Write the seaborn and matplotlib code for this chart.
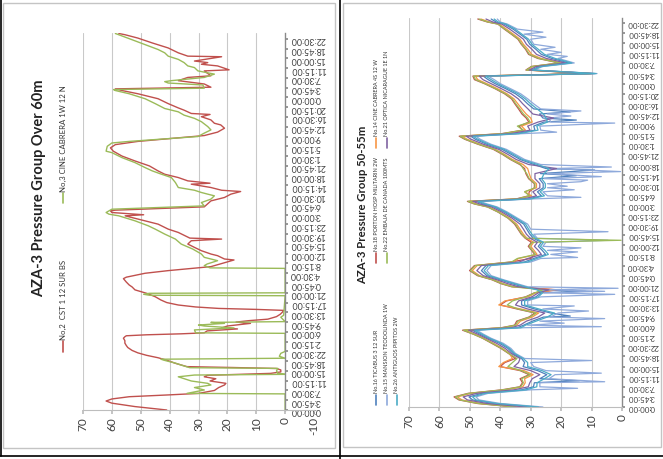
import numpy as np
import pandas as pd
import matplotlib
matplotlib.use("Agg")
import matplotlib.pyplot as plt
import seaborn as sns
from matplotlib.lines import Line2D
from matplotlib.patches import Rectangle

sns.set_theme(style="white")
plt.rcParams['font.family'] = ['Lato', 'DejaVu Sans']

# ---------------- shared axis texts ----------------
time_labels = ['0:00:00', '3:45:00', '7:30:00', '11:15:00', '15:00:00', '18:45:00', '22:30:00',
               '2:15:00', '6:00:00', '9:45:00', '13:30:00', '17:15:00', '21:00:00', '0:45:00',
               '4:30:00', '8:15:00', '12:00:00', '15:45:00', '19:30:00', '23:15:00', '3:00:00',
               '6:45:00', '10:30:00', '14:15:00', '18:00:00', '21:45:00', '1:30:00', '5:15:00',
               '9:00:00', '12:45:00', '16:30:00', '20:15:00', '0:00:00', '3:45:00', '7:30:00',
               '11:15:00', '15:00:00', '18:45:00', '22:30:00']
left_value_ticks = [70, 60, 50, 40, 30, 20, 10, 0, -10]
right_value_ticks = [70, 60, 50, 40, 30, 20, 10, 0]

left_title = 'AZA-3 Pressure Group Over 60m'
right_title = 'AZA-3 Pressure Group 50-55m'

# ---------------- left chart: time in 3h45m label intervals ----------------
no2_t = [0, 0.35, 0.7, 0.92, 1.13, 1.36, 1.55, 1.7, 2.0, 2.3, 2.56, 2.73, 2.97, 3.2, 3.4, 3.55,
         3.75, 3.9, 4.1, 4.25, 4.35, 4.44, 4.78, 5.1, 5.35, 5.6, 5.85, 6.1, 6.4, 6.6, 6.85, 7.1,
         7.35, 7.5, 7.6, 7.7, 7.8, 7.9, 8.1, 8.3, 8.4, 8.6, 8.87, 9.0, 9.15, 9.3, 9.56, 9.8,
         10.0, 10.2, 10.3, 10.4, 10.55, 10.75, 11.0, 11.26, 11.6, 11.95, 12.3, 12.6, 12.8, 13.1,
         13.45, 13.6, 14.0, 14.27, 14.68, 14.78, 15.36, 15.46, 15.8, 15.97, 16.31, 16.65, 16.99,
         17.33, 17.5, 17.6, 18.18, 18.52, 19.03, 19.37, 19.71, 19.88, 19.99, 20.22, 20.39, 20.46,
         20.8, 21.41, 21.76, 22.1, 22.37, 22.5, 22.78, 22.95, 23.12, 23.22, 23.46, 23.8, 24.14,
         24.48, 24.99, 25.5, 26.0, 26.5, 26.84, 27.17, 27.5, 28.1, 28.45, 28.85, 29.19, 29.36,
         29.7, 30.03, 30.26, 30.36, 30.7, 30.93, 31.37, 31.87, 32.38, 32.71, 32.88, 33.05, 33.38,
         33.72, 34.05, 34.22, 34.72, 34.83, 35.23, 35.4, 35.57, 35.73, 36.17, 36.23, 36.57,
         37.07, 37.58, 38.08, 38.42, 38.55]
no2_v = [41, 52, 60, 62, 60, 54, 40, 30, 24.5, 23, 21, 20.5, 26, 24, 28, 27,
         5, 1.5, 1.5, 3, 18, 34, 38, 41, 44, 48, 51, 53, 54.5, 55, 55.5, 55.5,
         56, 55.5, 55, 48, 36, 28, 27, 16.5, 22, 20, 12, 17, 12.5, 6, 3, 1.7,
         1, 0.5, 10, 23, 31, 37, 41, 43, 45, 48, 52, 53, 54, 55,
         56, 55, 48.5, 40.5, 25.7, 24.5, 17.7, 21, 23.4, 25.7, 29, 31.4, 33.7,
         32.5, 22, 33, 37, 40.5, 44, 48.5, 53, 55.4, 49, 60, 60.5, 58.8,
         28, 25.7, 21, 18.8, 15.4, 22, 25.7, 29, 32.5, 26, 33.7, 37, 41.7,
         44, 47, 52, 56.5, 59.5, 60.5, 58.8, 51, 28, 23.4, 21, 22.3, 24.5,
         25.7, 29, 26, 32.5, 35, 37, 40.5, 44, 51, 56.5, 58.8, 25.7, 28,
         37, 33.7, 25.7, 28, 19.4, 23.4, 29, 26.8, 31.4, 22, 33.7, 37,
         40.5, 46, 51, 55.4, 57.6]

no3_t = [0, 1.65, 1.7, 2.05, 2.3, 2.56, 2.73, 2.97, 3.4, 3.58, 3.65, 3.75, 4.0, 4.26, 4.33,
         4.6, 4.8, 5.1, 5.2, 5.3, 5.5, 5.8, 6.0, 7.85, 7.9, 8.2, 8.4, 8.6, 8.7, 8.87, 8.97,
         9.05, 9.5, 9.7, 11.7, 11.75, 11.85, 11.95, 12.0, 14.5, 14.55, 14.78, 14.95, 15.29,
         15.46, 15.63, 15.97, 16.48, 16.99, 17.5, 18.01, 18.52, 18.86, 19.37, 19.88, 20.05,
         20.22, 20.56, 20.9, 21.24, 21.59, 21.93, 22.1, 22.27, 22.5, 22.78, 23.29, 23.8,
         24.14, 24.48, 24.82, 25.33, 25.84, 26.35, 26.5, 27.0, 27.34, 27.5, 28.0, 28.35,
         28.68, 29.02, 29.52, 29.86, 30.19, 30.53, 30.87, 31.37, 31.87, 32.38, 32.71, 32.81,
         32.95, 33.28, 33.48, 33.62, 33.72, 34.05, 34.39, 34.72, 35.06, 35.23, 35.57, 35.9,
         36.23, 36.57, 36.91, 37.41, 37.91, 38.42, 38.55]
no3_v = [0, 0, 34, 28, 31.4, 25.7, 26.8, 32.5, 37, 31.4, 0, 2.5, 3, 2.5, 33,
         36, 38, 42, 43, 0, 2, 1.5, 0, 0, 31, 31.4, 17.7, 28, 30, 21, 25.7,
         0, 1.5, 0.5, 0, 47, 49, 47, 0, 0, 26, 28, 27, 23.4,
         25.7, 28, 29, 32, 36, 38, 41.7, 45, 47.4, 52, 57.6, 61,
         62, 60, 28, 29, 25.7, 24.5, 26.8, 29, 31.4, 37, 38, 39.4,
         42.8, 46, 48.5, 52, 56.5, 60, 62, 61.6, 60, 54, 30.2, 28,
         25.7, 26.8, 29, 31.4, 35, 37, 41.7, 45, 48.5, 54, 58.8, 59.4,
         28, 28.5, 40.5, 41.7, 39.4, 28, 24.5, 30.2, 31.4, 33.7, 35, 37,
         40.5, 41.7, 44, 48.5, 53, 57.6, 58.8]

# ---------------- right chart: common sample times ----------------
knot_t = [0.0, 0.35, 0.7, 1.0, 1.35, 1.7, 2.0, 2.4, 2.8, 3.2, 3.6, 4.0, 4.4, 4.8, 5.3, 5.8,
          6.3, 6.8, 7.2, 7.6, 7.85, 8.1, 8.5, 8.9, 9.3, 9.7, 10.1, 10.5, 10.9, 11.3, 11.6,
          11.9, 12.2, 12.6, 13.0, 13.5, 14.0, 14.35, 14.7, 15.1, 15.5, 15.9, 16.3, 16.7,
          17.1, 17.6, 18.1, 18.7, 19.3, 19.8, 20.1, 20.35, 20.6, 20.9, 21.3, 21.7, 22.1,
          22.6, 23.1, 23.6, 24.0, 24.5, 25.0, 25.5, 26.0, 26.5, 26.8, 27.05, 27.4, 27.8,
          28.2, 28.6, 29.0, 29.5, 30.0, 30.5, 31.0, 31.5, 32.0, 32.4, 32.75, 33.0, 33.35,
          33.7, 34.05, 34.5, 34.9, 35.4, 35.9, 36.4, 36.9, 37.4, 37.9, 38.1, 38.4]

no18_v = [35.5, 47.6, 53.6, 55.2, 50.6, 39.5, 33.6, 32.7, 33.5, 30.5, 33.5, 40, 38.5, 35, 37.3, 39.8,
          42.8, 45.8, 48.8, 52.4, 39.6, 35.3, 34.6, 30.6, 28.6, 34.5, 40, 38, 31.7, 28.8, 21,
          36.3, 39.7, 42.8, 47.5, 50.1, 48.5, 36.6, 30, 28.7, 29.7, 30.8, 29.8, 31.8,
          33.1, 34.2, 35.3, 37.5, 40.8, 44.2, 48.6, 50.8, 34.7, 30.7, 30.5, 28.8, 28.8,
          30.7, 31.6, 32, 33.6, 36.7, 39.3, 42.3, 47.3, 51.7, 53.5, 39.6, 32.7, 33.8,
          30.6, 31.5, 32.9, 34, 35.2, 36.3, 38.6, 41.7, 45.2, 48.5, 49, 10.4, 31.6,
          29.8, 20.7, 27.7, 30.7, 31.7, 33.1, 34.2, 36.4, 38.7, 40.8, 44.2, 47.4]
no22_v = [35, 47.2, 53.3, 54.8, 50.3, 39, 33.3, 32.4, 33, 30.1, 33.1, 37.5, 36, 34.5, 37.2, 39.6,
          42.6, 45.7, 48.7, 52.1, 39.2, 35, 34.2, 30.3, 28.2, 34.1, 37.7, 36, 31.5, 28.7, 26,
          36, 39.4, 42.6, 47.2, 49.8, 48.2, 36.3, 34.4, 28.4, 29.5, 30.5, 29.5, 31.6,
          32.9, 34, 35, 37.4, 40.7, 44.1, 48.4, 50.6, 34.4, 30.4, 32, 28.6, 28.6,
          30.5, 31.3, 32.5, 33.3, 36.5, 39, 42, 47, 51.5, 53.2, 39.3, 32.4, 34.4,
          30.2, 31, 32.4, 33.6, 34.9, 36, 38.3, 41.5, 45, 48.1, 48.8, 10.3, 31.4,
          29.6, 20.5, 27.3, 30.4, 31.5, 32.9, 34, 36.2, 38.5, 40.7, 44, 47]
no14_v = [34, 46.4, 52.6, 54.1, 49.6, 38, 32.6, 31.8, 32, 29.2, 32.2, 40.5, 39, 36, 37, 39.3,
          42.2, 45.4, 48.3, 51.6, 38.4, 34.6, 33.4, 29.5, 27.4, 33.2, 40.5, 38.5, 30.9, 28.3, 22,
          35.5, 38.9, 42.2, 46.8, 49.2, 47.6, 35.6, 34, 27.9, 28.9, 30, 29, 31.2,
          32.4, 33.5, 34.6, 37, 40.3, 43.7, 47.9, 50.1, 33.8, 29.7, 32, 28.1, 28.1,
          29.9, 30.5, 31, 32.5, 36, 38.6, 41.6, 46.6, 50.9, 52.6, 38.6, 31.7, 33,
          29.5, 30, 31.5, 32.9, 34.2, 35.5, 37.8, 40.9, 44.4, 47.4, 48.2, 10, 31.2,
          29.2, 19.9, 26.6, 29.7, 30.9, 32.4, 33.5, 35.7, 38, 40.3, 43.5, 46.4]
no21_v = [31.5, 44.4, 50.8, 52.2, 47.8, 35.5, 30.8, 30.3, 29.5, 27, 30, 35.5, 34, 33.5, 36.4, 38.4,
          41.2, 44.6, 47.4, 50.4, 36.4, 33.5, 31.4, 27.6, 25.4, 31, 35, 34, 29.6, 27.5, 24,
          34.1, 37.5, 41.2, 45.6, 47.7, 46.2, 33.8, 31, 26.5, 27.5, 28.8, 27.8, 30.1,
          31.4, 32.4, 33.5, 36.2, 39.5, 42.9, 46.8, 49, 32.3, 28.1, 29.3, 27, 27,
          28.6, 28.6, 21.5, 30.7, 34.8, 37.5, 40.5, 45.5, 49.6, 51.2, 36.8, 30.2, 31,
          27.6, 22.5, 29.3, 30.9, 32.6, 34.1, 36.4, 39.6, 43, 45.7, 46.9, 9.5, 30.5,
          28.2, 18.6, 24.9, 28.1, 29.6, 31.4, 32.4, 34.6, 36.9, 39.5, 42.4, 44.7]
no16_v = [29, 42.4, 49.1, 50.3, 46.1, 33, 29.1, 28.8, 27, 24.7, 27.7, 32.5, 32, 33, 35.8, 37.5,
          40.2, 43.9, 46.6, 49.2, 34.4, 32.3, 29.4, 25.8, 23.4, 28.7, 33, 33, 28.3, 26.6, 27,
          32.7, 36.1, 40.2, 44.4, 46.2, 44.7, 32.1, 29, 25.1, 26.2, 27.5, 26.5, 29.1,
          30.3, 31.3, 32.3, 35.4, 38.7, 42, 45.7, 47.9, 30.8, 26.5, 27.8, 25.9, 25.9,
          27.2, 26.8, 25, 28.9, 33.5, 36.4, 39.4, 44.4, 48.2, 49.7, 35.1, 28.6, 29,
          25.7, 26, 27.1, 29, 31, 32.7, 35, 38.2, 41.7, 44, 45.6, 8.9, 29.8,
          27.2, 17.3, 23.1, 26.5, 28.3, 30.3, 31.3, 33.5, 35.8, 38.7, 41.3, 43]
no26_v = [27.5, 41.2, 48, 49.1, 45, 31.5, 28, 27.9, 25.5, 23.3, 26.3, 31, 31, 32.5, 35.4, 37,
          39.6, 43.5, 46, 48.4, 33.2, 31.7, 28.2, 24.6, 22.2, 27.3, 32, 32, 27.5, 26.1, 28,
          31.8, 35.2, 39.6, 43.7, 45.3, 43.9, 31, 28, 24.2, 25.3, 26.8, 25.8, 28.4,
          29.6, 30.7, 31.7, 34.9, 38.2, 41.5, 45.1, 47.3, 29.9, 25.5, 26.9, 25.2, 25.2,
          26.4, 25.6, 24, 27.8, 32.8, 35.7, 38.7, 43.7, 47.4, 48.9, 34, 27.6, 28,
          24.5, 25, 25.8, 27.9, 30, 31.8, 34.1, 37.4, 40.8, 43, 44.8, 8.5, 29.4,
          26.6, 16.5, 22, 25.5, 27.5, 29.6, 30.7, 32.9, 35.1, 38.2, 40.7, 42]
no15_v = [26, 40, 47, 48, 44, 30, 27, 27, 24, 22, 25, 29, 30, 32, 35, 36.5,
          39, 43, 45.5, 47.7, 32, 31, 27, 23.5, 21, 26, 31, 31, 26.7, 25.6, 25,
          31, 34.4, 39, 43, 44.4, 43, 30, 26.7, 23.4, 24.5, 26, 25, 27.8,
          29, 30, 31, 34.4, 37.7, 41, 44.4, 46.6, 29, 24.5, 26, 24.5, 24.5,
          25.6, 24.5, 23, 26.7, 32, 35, 38, 43, 46.6, 48, 33, 26.7, 27,
          23.4, 24, 24.5, 26.7, 29, 31, 33.3, 36.6, 40, 42, 44, 8.2, 29,
          26, 15.7, 21, 24.5, 26.7, 29, 30, 32.2, 34.4, 37.7, 40, 41]

# extra readings (sharp drops) between the common sample times
no15_extra_t = [1.85, 2.5, 3.35, 4.6, 7.95, 8.3, 8.75, 9.5, 10.0, 11.15, 11.45, 11.75, 14.8,
                15.35, 15.75, 16.5, 17.35, 20.75, 21.5, 21.85, 22.3, 22.45, 22.8, 23.3, 23.75,
                27.2, 28.1, 28.8, 29.3, 34.7, 35.1, 35.6, 36.6, 37.1]
no15_extra_v = [14.6, 5.7, 6.8, 10, 6.8, 19, 5.7, 11, 15.7, 2.4, 5.7, 1.3, 14.6,
                14.6, 13.5, 4.6, 4.6, 13.5, 15.7, 18, 13.5, 11.3, 6.8, 0.5, 3.5,
                21.5, 2.4, 16.8, 13.5, 18, 20, 22, 25, 26]
no16_extra_t = [2.6, 9.0, 11.45, 22.9, 23.45, 28.4, 29.2]
no16_extra_v = [14, 17, 12, 15, 9, 15, 17]
no22_extra_t = [16.5]
no22_extra_v = [0.3]

# ---------------- build tidy frames ----------------
def frame(name, t, v):
    d = pd.DataFrame({'t': t, 'value': v, 'series': name})
    return d.sort_values('t', kind='stable')

left_df = pd.concat([frame('No,2  CST 1 12 SUR BS', no2_t, no2_v),
                     frame('No,3 CINE CABRERA 1W 12 N', no3_t, no3_v)])

right_names = ['No.16 TICABUS 3 12 SUR', 'No.18 PORTON HOSP MILITARIN 2W',
               'No.14 CINE CABRERA 4S 12 W', 'No.15 MANSION TEODOLINDA 1W',
               'No.22 EMBAJA DE CANADA 100MTS', 'No.21 OPTICA NICARAGUE 1E 1N',
               'No.26 ANTIGUOS PIPITOS 2W']
right_df = pd.concat([
    frame(right_names[0], knot_t + no16_extra_t, no16_v + no16_extra_v),
    frame(right_names[1], knot_t, no18_v),
    frame(right_names[2], knot_t, no14_v),
    frame(right_names[3], knot_t + no15_extra_t, no15_v + no15_extra_v),
    frame(right_names[4], knot_t + no22_extra_t, no22_v + no22_extra_v),
    frame(right_names[5], knot_t, no21_v),
    frame(right_names[6], knot_t, no26_v),
])

left_pal = {'No,2  CST 1 12 SUR BS': '#C0504D', 'No,3 CINE CABRERA 1W 12 N': '#9BBB59'}
right_pal = dict(zip(right_names, ['#4F81BD', '#C0504D', '#F79646', '#8EA9DB',
                                   '#9BBB59', '#8064A2', '#4BACC6']))

# ---------------- figure ----------------
W, H = 663, 459
fig = plt.figure(figsize=(W / 100, H / 100), dpi=100)
fig.patch.set_facecolor('white')

def FX(px):
    return px / W

def FY(py):
    return 1 - py / H

# page frames
for (x0, y0, x1, y1) in [(3, 3, 335, 448), (343, 3, 661, 447)]:
    fig.add_artist(Rectangle((FX(x0), FY(y1)), FX(x1) - FX(x0), FY(y0) - FY(y1),
                             transform=fig.transFigure, fill=False, ec='#c4c4c4', lw=1.0))
for (xa, ya, xb, yb) in [(1, 0, 1, 456), (339.5, 0, 339.5, 459), (0, 456, 663, 456)]:
    fig.add_artist(Line2D([FX(xa), FX(xb)], [FY(ya), FY(yb)], transform=fig.transFigure,
                          color='black', lw=1.2))


def style_axes(ax, xmin, ymax, ticks, grid_vals, spine_at_zero, tsize):
    ax.set_facecolor('none')
    ax.set_xlim(70, xmin)
    ax.set_ylim(0, ymax)
    for g in grid_vals:
        ax.axvline(g, color='#c9c9c9', lw=0.8, zorder=0)
    for s in ['top', 'left']:
        ax.spines[s].set_visible(False)
    ax.spines['bottom'].set_color('#bdbdbd')
    ax.spines['bottom'].set_linewidth(0.8)
    ax.spines['right'].set_color('#8a8a8a')
    ax.spines['right'].set_linewidth(1.0)
    if spine_at_zero:
        ax.spines['right'].set_position(('data', 0))
    ax.set_xticks(ticks)
    ax.set_xticklabels([str(t) for t in ticks], rotation=90, fontsize=8.5, color='#404040')
    ax.tick_params(axis='x', length=3, color='#bdbdbd', pad=2, bottom=True)
    ax.yaxis.tick_right()
    ax.set_yticks(range(len(time_labels)))
    ax.set_yticklabels(time_labels, rotation=180, fontsize=tsize, color='#404040')
    ax.tick_params(axis='y', length=2.5, color='#8a8a8a', pad=1.2, right=True, left=False)
    ax.set_xlabel('')
    ax.set_ylabel('')


# left chart
ax1 = fig.add_axes([FX(83), FY(410), FX(314) - FX(83), FY(33) - FY(410)])
sns.lineplot(data=left_df, x='value', y='t', hue='series', palette=left_pal, orient='y',
             estimator=None, sort=True, legend=False, linewidth=1.0, ax=ax1)
style_axes(ax1, -10, 38.6, left_value_ticks, [10, 20, 30, 40, 50, 60, 70], True, 6.4)

# right chart
ax2 = fig.add_axes([FX(409), FY(407), FX(622) - FX(409), FY(18) - FY(407)])
sns.lineplot(data=right_df, x='value', y='t', hue='series', hue_order=right_names,
             palette=right_pal, orient='y', estimator=None, sort=True, legend=False,
             linewidth=0.9, ax=ax2)
style_axes(ax2, 0, 38.5, right_value_ticks, [10, 20, 30, 40, 50, 60, 70], False, 5.7)

# titles (rotated page)
fig.text(FX(39), FY(188), left_title, rotation=90, ha='center', va='center',
         fontsize=10.5, fontweight='bold', color='#222222')
fig.text(FX(363), FY(205), right_title, rotation=90, ha='center', va='center',
         fontsize=8.2, fontweight='bold', color='#222222')

# legends (rotated page)
def legend_entry(x, y_line_bottom, y_line_top, y_text, label, color, size):
    fig.add_artist(Line2D([FX(x), FX(x)], [FY(y_line_bottom), FY(y_line_top)],
                          transform=fig.transFigure, color=color, lw=1.2))
    fig.text(FX(x), FY(y_text), label, rotation=90, ha='center', va='bottom',
             fontsize=size, color='#333333')

legend_entry(63, 352, 341, 340, 'No,2  CST 1 12 SUR BS', '#C0504D', 5.6)
legend_entry(63, 203, 193, 192, 'No,3 CINE CABRERA 1W 12 N', '#9BBB59', 5.6)

right_leg = [(376, 405, right_names[0]), (376, 263, right_names[1]), (376, 148, right_names[2]),
             (387, 405, right_names[3]), (387, 263, right_names[4]), (387, 148, right_names[5]),
             (397, 405, right_names[6])]
for x, yb, name in right_leg:
    legend_entry(x, yb, yb - 10, yb - 12, name, right_pal[name], 4.0)

fig.savefig('out.png', dpi=100, facecolor='white')
